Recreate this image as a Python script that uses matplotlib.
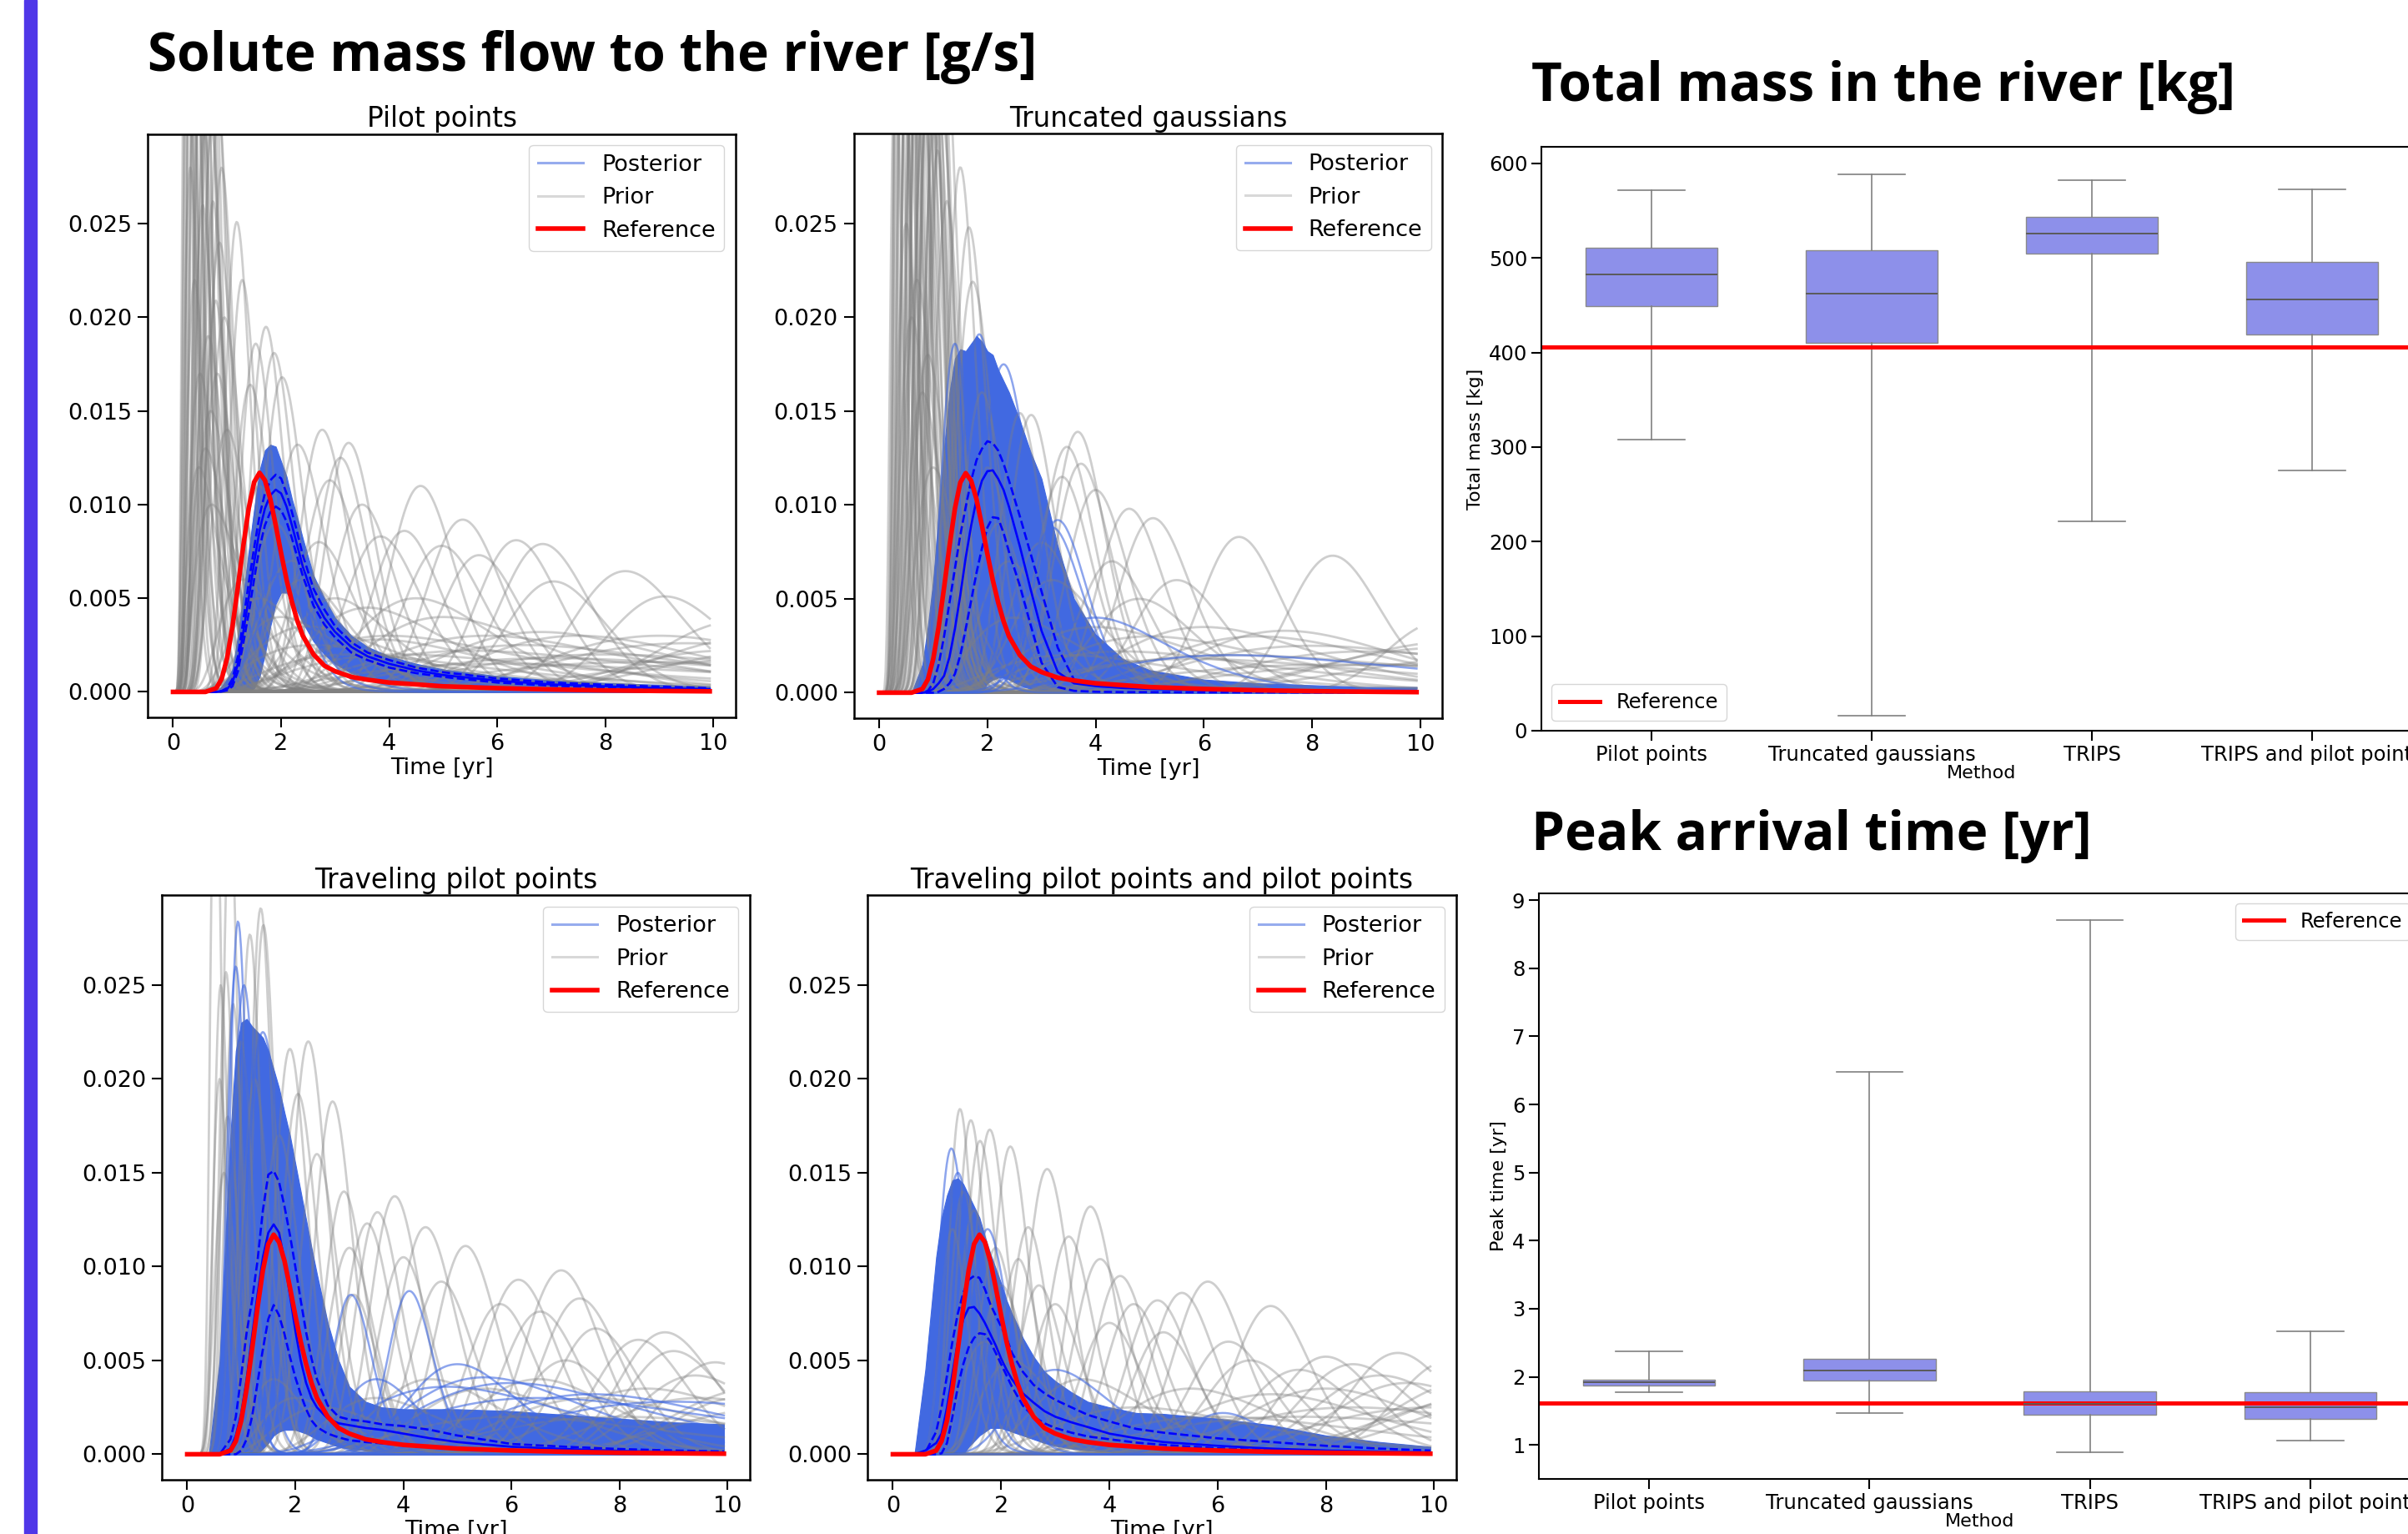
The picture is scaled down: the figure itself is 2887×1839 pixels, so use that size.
import numpy as np
import matplotlib.pyplot as plt
from matplotlib.lines import Line2D

# ---- breakthrough curves (values in 1e-3 g/s) -------------------------------
TIME_GRID = [0, 0.4, 0.6, 0.8, 0.9, 1.0, 1.1, 1.2, 1.3, 1.4, 1.5, 1.6, 1.7, 1.8,
             1.9, 2.0, 2.1, 2.2, 2.3, 2.4, 2.6, 2.8, 3.0, 3.3, 3.6, 4.0, 4.5,
             5.0, 6.0, 7.0, 8.0, 9.0, 9.93]

REFERENCE_FLOW = [0, 0, 0, 0.2, 0.7, 1.8, 3.5, 5.6, 7.8, 9.8, 11.2, 11.7, 11.3,
                  10.3, 8.9, 7.4, 6.0, 4.8, 3.8, 3.0, 2.0, 1.4, 1.1, 0.8, 0.65,
                  0.5, 0.4, 0.3, 0.2, 0.13, 0.08, 0.05, 0.03]

# Pilot points
PP_MEAN = [0, 0, 0, 0, 0.03, 0.15, 0.5, 1.5, 3.2, 5.0, 6.9, 8.6, 9.8, 10.5, 10.8,
           10.6, 9.9, 8.9, 7.8, 6.7, 5.0, 3.95, 3.2, 2.4, 1.9, 1.5, 1.15, 0.9,
           0.6, 0.4, 0.3, 0.2, 0.15]
PP_HIGH = [0, 0, 0, 0, 0.05, 0.2, 0.7, 1.9, 3.8, 5.8, 7.7, 9.4, 10.6, 11.3, 11.6,
           11.4, 10.6, 9.6, 8.5, 7.3, 5.5, 4.4, 3.5, 2.65, 2.1, 1.7, 1.3, 1.05,
           0.72, 0.5, 0.38, 0.28, 0.2]
PP_LOW = [0, 0, 0, 0, 0.02, 0.08, 0.3, 1.1, 2.6, 4.2, 6.0, 7.7, 8.9, 9.6, 9.9,
          9.7, 9.1, 8.2, 7.2, 6.2, 4.6, 3.6, 2.9, 2.1, 1.7, 1.3, 1.0, 0.8, 0.5,
          0.33, 0.24, 0.16, 0.12]
PP_UPPER = [0, 0, 0, 0, 0.3, 0.7, 1.2, 3.0, 5.2, 7.5, 9.7, 11.8, 12.9, 13.2, 13.1,
            12.3, 11.5, 10.3, 9.3, 8.2, 6.2, 5.0, 3.95, 3.0, 2.4, 1.9, 1.5, 1.2,
            0.85, 0.62, 0.48, 0.38, 0.3]
PP_LOWER = [0, 0, 0, 0, 0, 0, 0, 0, 0, 0, 0.2, 0.8, 2.0, 3.5, 4.7, 5.3, 5.3, 4.9,
            4.3, 3.7, 2.7, 2.0, 1.5, 1.0, 0.75, 0.55, 0.4, 0.3, 0.18, 0.12, 0.08,
            0.05, 0.04]

# Truncated gaussians
TG_MEAN = [0, 0, 0, 0, 0.05, 0.2, 0.5, 0.9, 1.9, 3.4, 5.2, 7.2, 8.9, 10.3, 11.3,
           11.8, 11.85, 11.4, 10.8, 9.9, 7.8, 5.5, 3.3, 1.1, 0.5, 0.35, 0.25, 0.2,
           0.13, 0.1, 0.08, 0.06, 0.05]
TG_HIGH = [0, 0, 0, 0, 0.1, 0.5, 1.5, 3.0, 4.8, 6.6, 8.4, 9.9, 11.3, 12.4, 13.0,
           13.4, 13.3, 12.9, 12.2, 11.3, 9.4, 7.4, 5.4, 2.4, 0.7, 0.4, 0.3, 0.25,
           0.18, 0.14, 0.1, 0.08, 0.06]
TG_LOW = [0, 0, 0, 0, 0, 0, 0.05, 0.2, 0.5, 1.0, 2.0, 3.4, 4.9, 6.4, 7.7, 8.8,
          9.35, 9.3, 8.5, 7.5, 5.7, 3.6, 1.6, 0.3, 0.1, 0.05, 0.03, 0.03, 0.02,
          0.02, 0.01, 0.01, 0.01]
TG_UPPER = [0, 0, 0, 1.5, 3.5, 6.0, 9.5, 13.0, 16.0, 17.8, 18.3, 18.2, 18.6, 19.0,
            18.7, 18.2, 18.0, 17.2, 16.6, 16.0, 14.5, 12.8, 11.4, 7.8, 5.0, 3.1,
            1.8, 1.2, 0.7, 0.5, 0.4, 0.3, 0.3]
TG_LOWER = [0, 0, 0, 0, 0, 0, 0, 0, 0, 0, 0, 0, 0, 0, 0, 0.5, 0.7, 0.8, 0.8, 0.7,
            0.4, 0.2, 0.1, 0, 0, 0, 0, 0, 0, 0, 0, 0, 0]

# Traveling pilot points
TPP_MEAN = [0, 0, 0, 0.3, 1.0, 2.2, 4.0, 6.3, 8.5, 10.5, 11.8, 12.25, 11.8, 10.3,
            8.5, 6.6, 5.0, 3.8, 3.0, 2.5, 1.9, 1.65, 1.55, 1.4, 1.3, 1.1, 0.85,
            0.65, 0.4, 0.28, 0.18, 0.12, 0.1]
TPP_HIGH = [0, 0, 0, 0.8, 2.0, 4.2, 6.5, 8.2, 10.3, 13.0, 14.9, 15.1, 14.5, 13.2,
            11.7, 10.0, 8.2, 6.5, 5.1, 4.0, 2.6, 2.0, 1.85, 1.75, 1.6, 1.5, 1.3,
            1.0, 0.55, 0.4, 0.28, 0.2, 0.15]
TPP_LOW = [0, 0, 0, 0, 0, 0.2, 0.8, 2.0, 3.8, 5.6, 7.2, 7.95, 7.4, 6.4, 5.2, 4.1,
           3.2, 2.4, 1.8, 1.45, 1.1, 0.9, 0.75, 0.65, 0.58, 0.5, 0.4, 0.33, 0.2,
           0.13, 0.08, 0.05, 0.04]
TPP_UPPER = [0, 0, 5.0, 17.0, 21.5, 23.0, 23.2, 22.8, 22.5, 22.2, 21.5, 20.5, 19.5,
             18.2, 17.0, 15.5, 14.0, 12.5, 11.0, 9.6, 7.0, 5.0, 3.6, 2.8, 2.5, 2.4,
             2.4, 2.4, 2.3, 2.1, 1.9, 1.7, 1.6]
TPP_LOWER = [0, 0, 0, 0, 0, 0, 0, 0, 0, 0.3, 0.6, 1.0, 1.2, 1.3, 1.3, 1.3, 1.2,
             1.1, 0.95, 0.8, 0.6, 0.4, 0.3, 0.2, 0.12, 0.05, 0, 0, 0, 0, 0, 0, 0]

# Traveling pilot points and pilot points
MIX_MEAN = [0, 0, 0.2, 0.6, 1.1, 2.5, 4.3, 6.0, 7.2, 7.8, 7.85, 7.5, 7.0, 6.4, 5.8,
            5.1, 4.5, 4.0, 3.6, 3.25, 2.75, 2.3, 2.0, 1.7, 1.45, 1.1, 0.85, 0.65,
            0.45, 0.3, 0.2, 0.14, 0.1]
MIX_HIGH = [0, 0, 0.1, 1.2, 2.5, 4.2, 6.0, 7.5, 8.6, 9.3, 9.5, 9.4, 8.8, 8.0, 7.4,
            6.8, 6.2, 5.4, 4.9, 4.4, 3.7, 3.25, 2.9, 2.5, 2.1, 1.75, 1.35, 1.15,
            0.85, 0.65, 0.45, 0.3, 0.2]
MIX_LOW = [0, 0, 0, 0, 0.05, 0.6, 2.0, 3.6, 4.8, 5.7, 6.2, 6.45, 6.4, 6.0, 5.4,
           4.8, 4.2, 3.6, 3.1, 2.6, 2.0, 1.65, 1.4, 1.15, 0.95, 0.8, 0.62, 0.5,
           0.32, 0.2, 0.12, 0.07, 0.05]
MIX_UPPER = [0, 0, 4.5, 10.5, 12.6, 13.8, 14.6, 14.7, 14.4, 13.8, 13.2, 12.6, 11.6,
             10.7, 9.9, 9.1, 8.2, 7.5, 6.9, 6.2, 5.2, 4.4, 3.9, 3.3, 2.8, 2.5, 2.2,
             2.15, 1.9, 1.55, 1.0, 0.65, 0.4]
MIX_LOWER = [0, 0, 0, 0, 0, 0, 0, 0, 0, 0.4, 0.7, 1.0, 1.2, 1.4, 1.4, 1.4, 1.3,
             1.2, 1.1, 1.0, 0.8, 0.6, 0.45, 0.3, 0.2, 0.12, 0, 0, 0, 0, 0, 0, 0]

# single realisations: (peak time [yr], peak [1e-3 g/s], log-width)
PP_PRIOR = [
    (0.25, 48, 0.35), (0.3, 62, 0.3), (0.34, 40, 0.32), (0.38, 55, 0.3),
    (0.42, 36, 0.33), (0.46, 50, 0.3), (0.5, 33, 0.3), (0.54, 44, 0.28),
    (0.58, 30, 0.3), (0.62, 40, 0.27), (0.67, 34, 0.27), (0.71, 30, 0.26),
    (0.74, 26.2, 0.26), (0.79, 20.9, 0.28), (0.84, 31, 0.24), (0.9, 28, 0.24),
    (0.4, 22, 0.45), (0.5, 17, 0.5), (0.6, 13, 0.55), (0.7, 15, 0.45),
    (0.95, 20, 0.3), (1.0, 14, 0.35), (0.55, 26, 0.35), (0.65, 19, 0.4),
    (0.28, 38, 0.4), (0.36, 70, 0.28), (0.44, 45, 0.35), (0.52, 58, 0.25),
    (0.6, 48, 0.3), (0.69, 42, 0.25), (0.77, 36, 0.25), (0.86, 24, 0.3),
    (0.48, 12, 0.6), (0.72, 10, 0.6), (0.82, 17, 0.35), (0.32, 28, 0.45),
    (1.18, 25.1, 0.2), (1.28, 22.0, 0.2), (1.43, 16.4, 0.23), (1.53, 18.6, 0.2),
    (1.72, 19.5, 0.18), (1.87, 18.1, 0.18), (2.02, 16.8, 0.18), (2.31, 13.2, 0.2),
    (2.76, 14.0, 0.16), (2.9, 11.3, 0.18), (3.1, 12.5, 0.15), (3.25, 13.3, 0.14),
    (3.5, 10.0, 0.16), (3.84, 8.3, 0.18), (4.28, 8.6, 0.15), (4.58, 11.0, 0.13),
    (4.97, 7.8, 0.15), (5.36, 9.2, 0.13), (5.66, 7.3, 0.13), (6.35, 8.1, 0.12),
    (6.84, 7.9, 0.12), (7.04, 5.9, 0.13), (8.37, 6.45, 0.12), (9.1, 5.1, 0.12),
    (1.3, 6.0, 0.4), (1.6, 5.0, 0.4), (2.0, 4.0, 0.45), (2.2, 7.0, 0.3),
    (2.5, 3.5, 0.5), (3.0, 5.0, 0.3), (3.6, 4.5, 0.35), (4.0, 3.0, 0.5),
    (4.5, 5.0, 0.28), (5.0, 4.0, 0.32), (5.8, 3.0, 0.38), (6.5, 2.5, 0.4),
    (7.5, 3.0, 0.28), (8.0, 2.0, 0.4), (9.0, 3.0, 0.25), (10.5, 3.8, 0.15),
    (11.0, 3.0, 0.2), (12.0, 2.5, 0.25), (10.2, 2.2, 0.2), (3.3, 2.0, 0.6),
    (2.6, 2.5, 0.6), (6.0, 1.5, 0.6), (1.9, 9.0, 0.25), (2.4, 6.0, 0.3),
    (1.6, 11.0, 0.25), (2.7, 8.0, 0.22), (4.2, 2.0, 0.6), (5.5, 2.2, 0.5),
    (7.0, 1.8, 0.5), (8.8, 1.6, 0.45), (11.5, 1.8, 0.35), (3.8, 2.8, 0.45),
    (6.8, 3.2, 0.3), (9.5, 2.6, 0.3),
]
PP_POST = [(1.95, 6.3, 0.25), (2.05, 5.6, 0.28), (1.8, 13.0, 0.22)]

TG_PRIOR = [
    (0.35, 45, 0.3), (0.4, 60, 0.28), (0.45, 38, 0.3), (0.5, 55, 0.27),
    (0.55, 42, 0.28), (0.6, 65, 0.25), (0.65, 36, 0.27), (0.7, 50, 0.25),
    (0.75, 40, 0.25), (0.8, 58, 0.23), (0.85, 34, 0.25), (0.9, 45, 0.23),
    (0.95, 38, 0.22), (1.0, 52, 0.21), (1.05, 33, 0.22), (1.1, 40, 0.2),
    (1.15, 31, 0.21), (1.2, 36, 0.2), (0.5, 25, 0.4), (0.7, 22, 0.4),
    (0.9, 18, 0.35), (0.38, 52, 0.3), (0.42, 40, 0.33), (0.48, 66, 0.26),
    (0.52, 35, 0.3), (0.58, 48, 0.27), (0.62, 33, 0.3), (0.68, 60, 0.24),
    (0.72, 37, 0.26), (0.78, 46, 0.24), (0.82, 31, 0.25), (0.88, 55, 0.22),
    (0.92, 33, 0.24), (0.98, 42, 0.21), (1.02, 30, 0.22), (1.12, 34, 0.2),
    (0.3, 35, 0.35), (0.6, 20, 0.45), (0.8, 16, 0.4), (1.0, 12, 0.4),
    (1.08, 28.9, 0.2), (1.25, 26.2, 0.2), (1.5, 28.0, 0.18),
    (1.66, 24.8, 0.18), (1.73, 21.9, 0.2), (2.81, 14.8, 0.15), (2.6, 14.9, 0.15),
    (3.67, 13.9, 0.13), (3.47, 13.1, 0.14), (3.73, 12.2, 0.14), (4.0, 10.8, 0.14),
    (4.62, 9.8, 0.13), (5.06, 9.3, 0.13), (6.65, 8.3, 0.11), (8.38, 7.3, 0.1),
    (3.38, 11.5, 0.15), (10.4, 3.8, 0.1), (2.2, 9.0, 0.2), (2.4, 7.0, 0.25),
    (2.0, 12.0, 0.2), (1.9, 16.0, 0.2), (3.0, 8.0, 0.2), (3.2, 6.0, 0.25),
    (4.3, 7.0, 0.15), (5.5, 6.0, 0.15), (4.8, 5.0, 0.2), (6.0, 3.5, 0.3),
    (7.0, 3.0, 0.3), (8.0, 2.5, 0.35), (9.0, 2.2, 0.3), (10.5, 2.4, 0.25),
    (12.0, 2.0, 0.3), (5.0, 3.0, 0.4), (3.5, 2.0, 0.5), (6.5, 2.0, 0.5),
    (2.5, 4.0, 0.4), (4.0, 3.5, 0.4), (7.5, 3.3, 0.25), (9.5, 1.5, 0.4),
    (5.8, 1.8, 0.5), (8.5, 1.5, 0.5), (11.0, 2.8, 0.25), (4.5, 2.2, 0.5),
]
TG_POST = [(1.4, 18.6, 0.2), (1.85, 19.1, 0.2), (3.3, 9.2, 0.15), (3.2, 8.8, 0.16),
           (4.0, 4.0, 0.3), (6.5, 2.0, 0.45), (2.3, 17.5, 0.2)]

TPP_PRIOR = [
    (0.52, 40, 0.2), (0.79, 35, 0.18), (0.62, 25, 0.22), (0.72, 25.7, 0.2),
    (0.6, 20, 0.25), (0.68, 15, 0.3), (0.85, 24, 0.2), (1.16, 27.7, 0.17),
    (1.36, 29.1, 0.15), (1.41, 28.2, 0.15), (1.0, 22, 0.2), (1.25, 20, 0.2),
    (1.9, 21.6, 0.16), (2.24, 22.0, 0.15), (2.05, 19.2, 0.16), (2.69, 18.8, 0.13),
    (1.7, 17, 0.2), (2.4, 16, 0.15), (3.84, 13.75, 0.12), (3.52, 12.9, 0.12),
    (3.33, 12.3, 0.13), (4.41, 12.1, 0.12), (5.15, 11.1, 0.11), (3.08, 8.5, 0.13),
    (6.92, 9.8, 0.1), (6.13, 9.3, 0.11), (6.53, 7.6, 0.11), (7.56, 6.7, 0.1),
    (8.84, 6.5, 0.1), (8.35, 6.1, 0.1), (9.77, 4.9, 0.1), (5.79, 8.0, 0.11),
    (7.26, 8.3, 0.1), (4.7, 9.2, 0.12), (4.0, 10.5, 0.12), (3.0, 11, 0.14),
    (2.9, 14, 0.13), (2.0, 3, 0.35), (2.5, 2.5, 0.4), (3.5, 3.0, 0.3),
    (4.5, 4.0, 0.25), (5.5, 3.5, 0.25), (6.5, 4.0, 0.2), (7.5, 3.0, 0.25),
    (8.5, 3.5, 0.2), (9.5, 3.0, 0.2), (10.5, 3.5, 0.15), (11.0, 2.5, 0.2),
    (1.6, 4, 0.3), (6.0, 2.0, 0.4), (8.0, 2.0, 0.35), (9.0, 5.5, 0.1),
    (9.4, 4.2, 0.12), (10.2, 3.0, 0.12), (7.0, 5.0, 0.12), (0.75, 18, 0.25),
]
TPP_POST = [(0.94, 28.4, 0.18), (0.9, 26, 0.2), (1.05, 25, 0.22), (3.03, 8.5, 0.12),
            (4.11, 8.7, 0.1), (5.0, 4.8, 0.2), (1.4, 22.5, 0.25), (3.5, 4.0, 0.2),
            (5.5, 4.1, 0.3), (6.0, 3.8, 0.35), (4.8, 3.6, 0.4), (7.5, 3.2, 0.3),
            (9.0, 2.8, 0.35), (6.5, 3.0, 0.45)]

MIX_PRIOR = [
    (1.24, 18.4, 0.18), (1.44, 17.8, 0.18), (1.61, 16.7, 0.18), (2.17, 16.4, 0.15),
    (2.85, 15.2, 0.14), (3.65, 13.2, 0.12), (3.25, 11.6, 0.13), (3.83, 10.4, 0.13),
    (4.89, 8.2, 0.12), (5.82, 9.2, 0.11), (5.34, 8.6, 0.11), (6.98, 7.9, 0.1),
    (4.45, 8.0, 0.12), (9.33, 5.4, 0.1), (8.0, 5.2, 0.11), (10.3, 5.0, 0.1),
    (1.79, 17.3, 0.17), (2.5, 12.1, 0.14), (2.32, 10.4, 0.15), (1.3, 14, 0.2),
    (1.1, 12, 0.22), (1.5, 13, 0.2), (1.9, 11, 0.18), (2.0, 9, 0.2),
    (2.7, 9, 0.15), (3.0, 8, 0.15), (4.0, 7, 0.14), (4.2, 9.5, 0.12),
    (5.0, 6.5, 0.12), (6.2, 6.0, 0.12), (6.6, 5, 0.13), (7.5, 4.5, 0.13),
    (8.5, 4.8, 0.12), (9.0, 4.2, 0.14), (1.7, 6, 0.3), (2.2, 5, 0.3),
    (3.5, 4, 0.3), (5.5, 3.5, 0.25), (7.0, 3.2, 0.25), (8.0, 3.5, 0.2),
    (9.5, 3.8, 0.15), (10.8, 4.0, 0.15), (11.5, 3.5, 0.2), (6.0, 2.0, 0.4),
    (8.5, 2.5, 0.3), (11.0, 3.0, 0.2), (12.0, 3.3, 0.2), (10.0, 2.5, 0.25),
    (4.5, 2.5, 0.4), (7.5, 2.0, 0.45),
]
MIX_POST = [(1.08, 16.3, 0.25), (1.2, 15.0, 0.25), (1.75, 12.0, 0.2),
            (6.1, 2.2, 0.12), (3.0, 4.5, 0.3)]

# ---- box plots ---------------------------------------------------------------
METHODS = ["Pilot points", "Truncated gaussians", "TRIPS", "TRIPS and pilot points"]

MASS_WHISLO = [308.0, 15.5, 221.5, 274.9]
MASS_Q1 = [449.2, 410.7, 504.9, 418.8]
MASS_MED = [482.4, 462.1, 526.2, 456.2]
MASS_Q3 = [510.7, 508.1, 543.9, 495.8]
MASS_WHISHI = [571.7, 588.8, 582.4, 572.7]
MASS_REF = 406.0

PEAK_WHISLO = [1.78, 1.47, 0.89, 1.06]
PEAK_Q1 = [1.875, 1.94, 1.445, 1.38]
PEAK_MED = [1.92, 2.09, 1.60, 1.555]
PEAK_Q3 = [1.958, 2.27, 1.79, 1.78]
PEAK_WHISHI = [2.37, 6.48, 8.71, 2.67]
PEAK_REF = 1.61

W, H = 2887, 1839
T_FINE = np.linspace(0, 9.93, 500)


def pulse(tp, h, s):
    t = np.maximum(T_FINE, 1e-3)
    return h * 1e-3 * np.exp(-0.5 * (np.log(t / tp) / s) ** 2)


def box_axes(x0, y0, x1, y1):
    return fig.add_axes([x0 / W, 1 - y1 / H, (x1 - x0) / W, (y1 - y0) / H])


def flow_panel(ax, title, prior, post, upper, lower, mean, high, low):
    g = np.array(TIME_GRID)
    for tp, h, s in prior:
        ax.plot(T_FINE, pulse(tp, h, s), color="gray", alpha=0.38, lw=2.0)
    ax.fill_between(g, np.array(lower) * 1e-3, np.array(upper) * 1e-3,
                    color="royalblue", lw=0.8, edgecolor="royalblue")
    for tp, h, s in post:
        ax.plot(T_FINE, pulse(tp, h, s), color="royalblue", alpha=0.6, lw=1.8)
    ax.plot(g, np.array(high) * 1e-3, "--", color="blue", lw=1.9)
    ax.plot(g, np.array(low) * 1e-3, "--", color="blue", lw=1.9)
    ax.plot(g, np.array(mean) * 1e-3, color="blue", lw=1.9)
    ax.plot(g, np.array(REFERENCE_FLOW) * 1e-3, color="red", lw=4)

    ax.set_xlim(-0.47, 10.41)
    ax.set_ylim(-0.00136, 0.0298)
    ax.set_xticks([0, 2, 4, 6, 8, 10])
    ax.set_yticks([0, 0.005, 0.01, 0.015, 0.02, 0.025])
    ax.set_yticklabels(["0.000", "0.005", "0.010", "0.015", "0.020", "0.025"])
    ax.set_title(title, fontsize=23.5)
    ax.set_xlabel("Time [yr]", fontsize=19.5, labelpad=2)
    ax.tick_params(labelsize=19.5, length=8.5, width=1.5, pad=5)
    for sp in ax.spines.values():
        sp.set_linewidth(1.8)
    handles = [Line2D([], [], color="royalblue", alpha=0.55, lw=2.2),
               Line2D([], [], color="gray", alpha=0.3, lw=2.2),
               Line2D([], [], color="red", lw=4)]
    ax.legend(handles, ["Posterior", "Prior", "Reference"], loc="upper right",
              fontsize=19.5)


def box_panel(ax, lo, q1, med, q3, hi, ref, ylabel, legend_loc):
    stats = [dict(label=m, whislo=a, q1=b, med=c, q3=d, whishi=e)
             for m, a, b, c, d, e in zip(METHODS, lo, q1, med, q3, hi)]
    ax.bxp(stats, positions=range(len(METHODS)), widths=0.6, patch_artist=True,
           showfliers=False,
           boxprops=dict(facecolor="#8D90EA", edgecolor="#8a8a8a", lw=1.0),
           whiskerprops=dict(color="#808080", lw=1.2),
           capprops=dict(color="#808080", lw=1.2),
           medianprops=dict(color="#5a5a5a", lw=1.4))
    ax.axhline(ref, color="red", lw=3.6, label="Reference")
    ax.set_xlim(-0.5, len(METHODS) - 0.5)
    ax.set_xlabel("Method", fontsize=16, labelpad=0)
    ax.set_ylabel(ylabel, fontsize=16)
    ax.tick_params(labelsize=17.5, length=8.5, width=1.5)
    for sp in ax.spines.values():
        sp.set_linewidth(1.5)
    ax.legend(loc=legend_loc, fontsize=17.5)


fig = plt.figure(figsize=(W / 100, H / 100), dpi=100)

# accent bar on the left edge
fig.patches.append(plt.Rectangle((29 / W, 0), 15 / W, 1, transform=fig.transFigure,
                                 color="#4F37E8", zorder=0))

flow_panel(box_axes(177, 160.5, 882, 860), "Pilot points", PP_PRIOR, PP_POST,
           PP_UPPER, PP_LOWER, PP_MEAN, PP_HIGH, PP_LOW)
flow_panel(box_axes(1023.5, 160, 1729.5, 861), "Truncated gaussians", TG_PRIOR,
           TG_POST, TG_UPPER, TG_LOWER, TG_MEAN, TG_HIGH, TG_LOW)
flow_panel(box_axes(194, 1073, 899, 1774), "Traveling pilot points", TPP_PRIOR,
           TPP_POST, TPP_UPPER, TPP_LOWER, TPP_MEAN, TPP_HIGH, TPP_LOW)
flow_panel(box_axes(1040, 1073, 1746, 1774), "Traveling pilot points and pilot points",
           MIX_PRIOR, MIX_POST, MIX_UPPER, MIX_LOWER, MIX_MEAN, MIX_HIGH, MIX_LOW)

ax_mass = box_axes(1848, 176, 2904, 876)
box_panel(ax_mass, MASS_WHISLO, MASS_Q1, MASS_MED, MASS_Q3, MASS_WHISHI, MASS_REF,
          "Total mass [kg]", "lower left")
ax_mass.set_ylim(0, 617.6)

ax_peak = box_axes(1845, 1071, 2902, 1773)
box_panel(ax_peak, PEAK_WHISLO, PEAK_Q1, PEAK_MED, PEAK_Q3, PEAK_WHISHI, PEAK_REF,
          "Peak time [yr]", "upper right")
ax_peak.set_ylim(0.5, 9.1)
ax_peak.set_yticks(range(1, 10))

head = dict(fontfamily="Open Sans", fontweight="bold", fontsize=46, va="baseline")
fig.text(177 / W, 1 - 85 / H, "Solute mass flow to the river [g/s]", **head)
fig.text(1836 / W, 1 - 121 / H, "Total mass in the river [kg]", **head)
fig.text(1836 / W, 1 - 1019 / H, "Peak arrival time [yr]", **head)

fig.savefig("out.png", dpi=100)
